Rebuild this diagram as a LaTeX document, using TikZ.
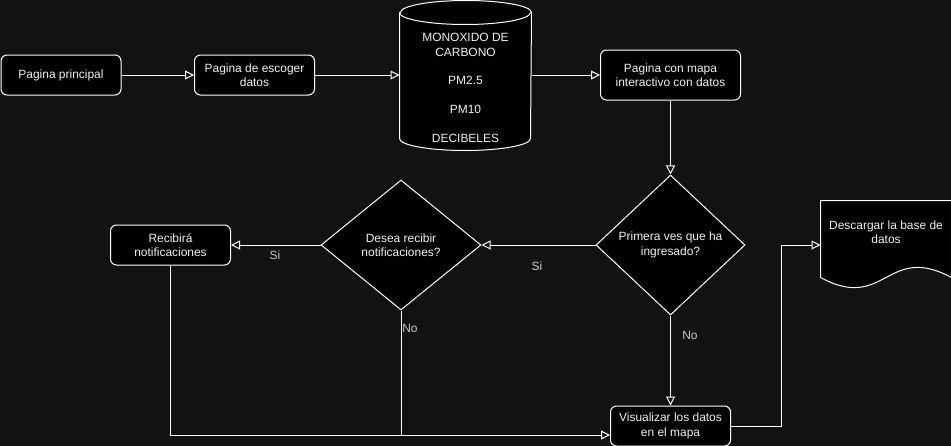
\documentclass[tikz,border=0pt]{standalone}
\usepackage{fontspec}
\setmainfont{Liberation Sans}
\usetikzlibrary{arrows.meta,shapes.geometric}
\definecolor{bgdark}{HTML}{121212}
\definecolor{lblgray}{HTML}{C8C8C8}
\definecolor{txtwhite}{HTML}{F0F0F0}
\begin{document}
\begin{tikzpicture}[>={Triangle[open,length=9bp,width=9bp]},line width=1bp,
  font=\fontsize{12}{14.4}\selectfont,
  box/.style={draw=white,fill=black,rounded corners=6bp,text=txtwhite,align=center,inner sep=0pt},
  choice/.style={diamond,draw=white,fill=black,text=txtwhite,align=center,inner sep=0pt},
  edgelbl/.style={text=lblgray,inner sep=0pt}]
%%
\fill [bgdark] (0bp,0bp) rectangle (951bp,-446bp);
\useasboundingbox (0bp,0bp) rectangle (951bp,-446bp);
%
\node (node_0) at (61bp,-75bp) [box,minimum width=120bp,minimum height=40bp] {Pagina principal};
  \node (node_1) at (254.5bp,-75bp) [box,minimum width=120bp,minimum height=40bp] {Pagina de escoger\\datos};
  \node (node_2) at (465.5bp,-75.5bp) [minimum width=131bp,minimum height=149bp,inner sep=0pt] {};
  \draw [white,fill=black] ([yshift=-12bp]node_2.north west) -- ([yshift=12bp]node_2.south west) arc (180:360:65.5bp and 12bp) -- ([yshift=-12bp]node_2.north east) arc (0:180:65.5bp and 12bp) -- cycle;
  \draw [white] ([yshift=-12bp]node_2.north west) arc (180:360:65.5bp and 12bp);
  \node (node_3) at ([yshift=-12.5bp]node_2.center) [text=txtwhite,align=center] {MONOXIDO DE\\CARBONO\\[14.4bp]PM2.5\\[14.4bp]PM10\\[14.4bp]DECIBELES};
  \node (node_4) at (670.5bp,-75bp) [box,minimum width=140bp,minimum height=50bp] {Pagina con mapa\\interactivo con datos};
  \node (node_6) at (670.5bp,-245bp) [choice,minimum width=149bp,minimum height=140bp] {Primera ves que ha\\ingresado?};
  \node (node_7) at (401bp,-245bp) [choice,minimum width=160bp,minimum height=130bp] {Desea recibir\\notificaciones?};
  \node (node_8) at (170.5bp,-245bp) [box,minimum width=120bp,minimum height=40bp] {Recibirá\\notificaciones};
  \node (node_5) at (670.5bp,-426bp) [box,minimum width=120bp,minimum height=40bp] {Visualizar los datos\\en el mapa};
  \node (node_9) at (886bp,-239bp) [minimum width=130bp,minimum height=76bp,inner sep=0pt] {};
  \draw [white,fill=black] (node_9.south west) -- (node_9.north west) -- (node_9.north east) -- (node_9.south east) .. controls ([xshift=-65bp,yshift=35bp]node_9.south east) and ([xshift=65bp,yshift=-35bp]node_9.south west) .. (node_9.south west) -- cycle;
  \node (node_10) at (886bp,-232.5bp) [text=txtwhite,align=center] {Descargar la base de\\datos};
%
  \node (node_11) at (537bp,-266bp) [edgelbl] {Si};
  \node (node_12) at (275bp,-255bp) [edgelbl] {Si};
  \node (node_13) at (410bp,-328bp) [edgelbl] {No};
  \node (node_14) at (690bp,-335bp) [edgelbl] {No};
%
  \coordinate (vin) at ([yshift=-9bp]node_5.west);
  \draw [white,->] (node_0) -- (node_1);
  \draw [white,->] (node_1.east) -- (node_1.east -| node_2.west);
  \draw [white,->] (node_2.east |- node_4) -- (node_4);
  \draw [white,->] (node_4) -- (node_6);
  \draw [white,->] (node_6) -- (node_7);
  \draw [white,->] (node_7) -- (node_8);
  \draw [white,->] (node_6) -- (node_5);
  \draw [white,->] (node_8) |- (vin);
  \draw [white] (node_7) -- (node_7 |- vin);
  \draw [white,->] (node_5.east) -- ++(50bp,0bp) |- (node_6 -| node_9.west);
%
\end{tikzpicture}
\end{document}
